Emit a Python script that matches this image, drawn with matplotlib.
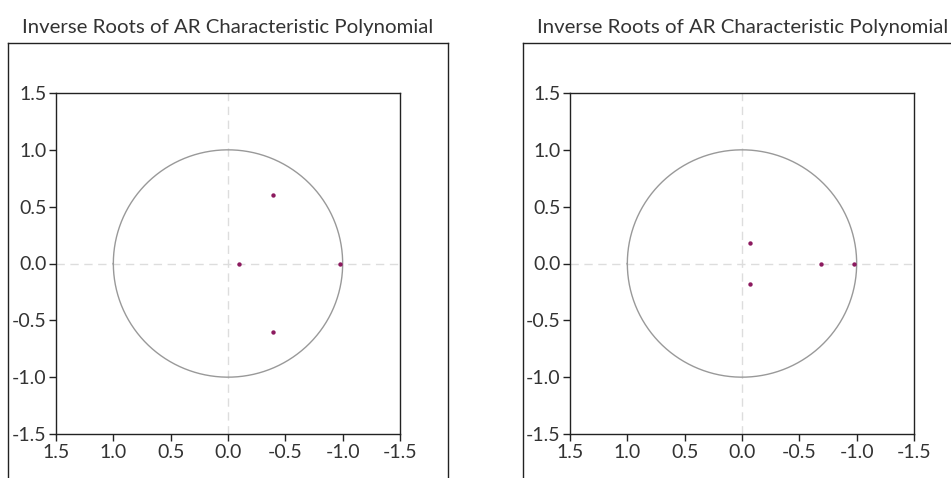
import numpy as np
import matplotlib
matplotlib.use("Agg")
import matplotlib.pyplot as plt
from matplotlib.lines import Line2D

plt.rcParams["font.family"] = ["Lato", "DejaVu Sans"]
plt.rcParams["axes.unicode_minus"] = False

# inverse roots as plotted (real, imaginary) for the two models
left_re = [-0.39, -0.39, -0.10, -0.975]
left_im = [0.60, -0.60, 0.0, 0.0]
right_re = [-0.07, -0.07, -0.69, -0.975]
right_im = [0.18, -0.18, 0.0, 0.0]
ticks = [1.5, 1.0, 0.5, 0.0, -0.5, -1.0, -1.5]
title = "Inverse Roots of AR Characteristic Polynomial"

TEXT = "#333333"
DOT = "#8c1a5f"

fig = plt.figure(figsize=(9.51, 4.78), dpi=100)


def frame(x0, x1):
    # outer box, open at the bottom
    kw = dict(color="#222222", lw=1.0, transform=fig.transFigure)
    top = 1 - 43 / 478
    fig.add_artist(Line2D([x0, x0], [0, top], **kw))
    fig.add_artist(Line2D([x0, x1], [top, top], **kw))
    fig.add_artist(Line2D([x1, x1], [0, top], **kw))


def panel(left, re, im):
    ax = fig.add_axes([left, 1 - 434 / 478, 344 / 951, 341 / 478])
    theta = np.linspace(0, 2 * np.pi, 400)
    ax.axhline(0, color="#dddddd", lw=1, ls=(0, (6, 4)), zorder=1)
    ax.axvline(0, color="#dddddd", lw=1, ls=(0, (6, 4)), zorder=1)
    ax.plot(np.cos(theta), np.sin(theta), color="#999999", lw=1, zorder=2)
    ax.scatter(re, im, s=10, color=DOT, zorder=3, lw=0)
    ax.set_xlim(1.5, -1.5)
    ax.set_ylim(-1.5, 1.5)
    ax.set_xticks(ticks)
    ax.set_yticks(ticks)
    ax.set_xticklabels([f"{t:.1f}" for t in ticks])
    ax.set_yticklabels([f"{t:.1f}" for t in ticks])
    ax.tick_params(direction="out", length=5, width=1, colors="#222222",
                   labelcolor=TEXT, labelsize=14, pad=2)
    for s in ax.spines.values():
        s.set_color("#222222")
        s.set_linewidth(1)
    return ax


frame(8 / 951, 448 / 951)
frame(523 / 951, 1.2)
panel(56 / 951, left_re, left_im)
panel(570 / 951, right_re, right_im)

fig.text(228 / 951, 1 - 33 / 478, title, ha="center", va="baseline",
         fontsize=14.7, color=TEXT)
fig.text(743 / 951, 1 - 33 / 478, title, ha="center", va="baseline",
         fontsize=14.7, color=TEXT)

fig.savefig("out.png", dpi=100)
